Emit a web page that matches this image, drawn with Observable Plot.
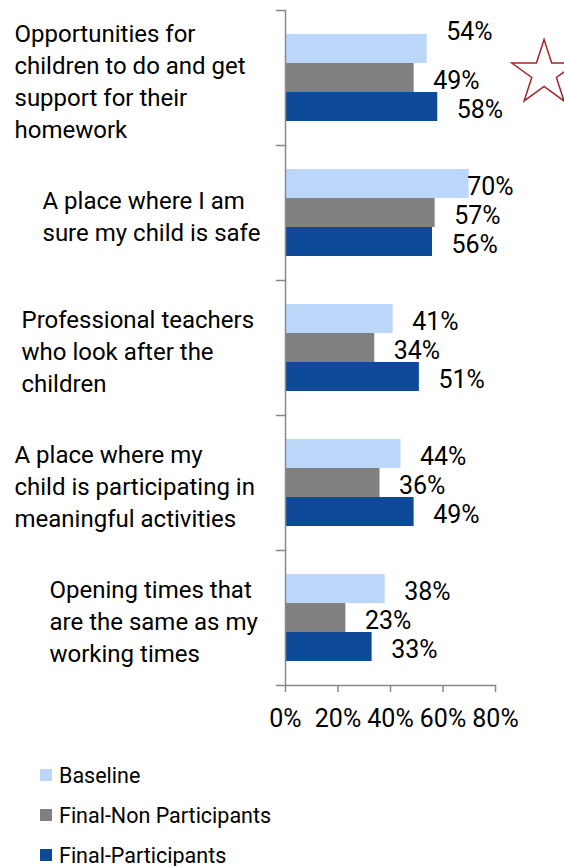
<!DOCTYPE html>
<html>
<head>
<meta charset="utf-8">
<script src="https://cdn.jsdelivr.net/npm/d3@7"></script>
<script src="https://cdn.jsdelivr.net/npm/@observablehq/plot@0.6"></script>
<style>
  html, body { margin: 0; padding: 0; background: #fff; }
  body { width: 564px; height: 866px; overflow: hidden; font-family: Roboto, sans-serif; }
  #legend { padding-top: 15px; padding-left: 40px; }
  .row { display: flex; align-items: center; height: 40px; font-size: 21.5px; color: #000; }
  .sw { width: 12px; height: 12px; margin-right: 7px; }
</style>
</head>
<body>
<div id="chart"></div>
<div id="legend"></div>
<script>
const categories = [
  "Opportunities for\nchildren to do and get\nsupport for their\nhomework",
  "A place where I am\nsure my child is safe",
  "Professional teachers\nwho look after the\nchildren",
  "A place where my\nchild is participating in\nmeaningful activities",
  "Opening times that\nare the same as my\nworking times"
];
const series = ["Baseline", "Final-Non Participants", "Final-Participants"];
const baseline = [0.54, 0.70, 0.41, 0.44, 0.38];
const finalNonParticipants = [0.49, 0.57, 0.34, 0.36, 0.23];
const finalParticipants = [0.58, 0.56, 0.51, 0.49, 0.33];
const xTicks = [0, 0.2, 0.4, 0.6, 0.8];
const colors = ["#BDD7FA", "#808080", "#0F4A98"];

const values = [baseline, finalNonParticipants, finalParticipants];
const rows = [];
categories.forEach((c, i) => series.forEach((s, j) => rows.push({category: c, series: s, value: values[j][i]})));

const W = 564, H = 740, ML = 285, MR = 69, MT = 10, MB = 55;
const plotW = W - ML - MR;
const axisColor = "#888888";
const FS = 25;
const CFS = 24;
const labelIndent = [14, 42, 21, 14, 49];
const labelMax = 0.62; // labels kept within the plot area

const shifted = d => d.category === categories[0] && d.series === series[0];
const pct = d3.format(".0%");

const chart = Plot.plot({
  width: W, height: H,
  marginLeft: ML, marginRight: MR, marginTop: MT, marginBottom: MB,
  style: {fontFamily: "Roboto, sans-serif", fontSize: FS + "px", color: "#000", background: "#fff"},
  x: {domain: [0, 0.8], axis: null},
  y: {domain: series, paddingInner: 0, paddingOuter: 0.775, axis: null},
  fy: {domain: categories, padding: 0, axis: null},
  color: {domain: series, range: colors},
  marks: [
    Plot.barX(rows, {x: "value", y: "series", fy: "category", fill: "series"}),
    Plot.ruleX([0], {stroke: axisColor, strokeWidth: 1.5}),
    Plot.frame({anchor: "top", insetLeft: -9, insetRight: plotW, stroke: axisColor, strokeWidth: 1.5}),
    Plot.frame({anchor: "bottom", facetAnchor: "bottom", insetLeft: -9, stroke: axisColor, strokeWidth: 1.5}),
    Plot.axisX({ticks: xTicks, tickFormat: pct, tickSize: 7, tickPadding: 17,
      stroke: axisColor, strokeWidth: 1.5, fill: "#000", fontSize: FS, label: null}),
    Plot.text(rows.filter(d => !shifted(d)), {
      x: d => Math.min(d.value, labelMax), y: "series", fy: "category",
      text: d => pct(d.value), textAnchor: "start", dx: 19, dy: 2.5,
      fill: "#000", fontSize: FS
    }),
    Plot.text(rows.filter(shifted), {
      x: d => Math.min(d.value, labelMax), y: "series", fy: "category",
      text: d => pct(d.value), textAnchor: "start", dx: 19, dy: -17,
      fill: "#000", fontSize: FS
    }),
    ...categories.map((c, i) => Plot.text([c], {
      fy: d => d, text: d => d, frameAnchor: "left", textAnchor: "start",
      dx: labelIndent[i] - ML, dy: 1.5, lineHeight: 32 / CFS, fill: "#000", fontSize: CFS
    })),
    Plot.dot([{category: categories[0], v: 0.985}], {
      x: "v", fy: "category", symbol: "star", r: 20.3, dy: -4.5,
      stroke: "#A3252B", strokeWidth: 1.5, fill: "#fff"
    })
  ]
});
document.getElementById("chart").appendChild(chart);

const legend = document.getElementById("legend");
series.forEach((s, j) => {
  const row = document.createElement("div");
  row.className = "row";
  const sw = document.createElement("span");
  sw.className = "sw";
  sw.style.background = colors[j];
  const t = document.createElement("span");
  t.textContent = s;
  row.appendChild(sw);
  row.appendChild(t);
  legend.appendChild(row);
});
</script>
</body>
</html>
